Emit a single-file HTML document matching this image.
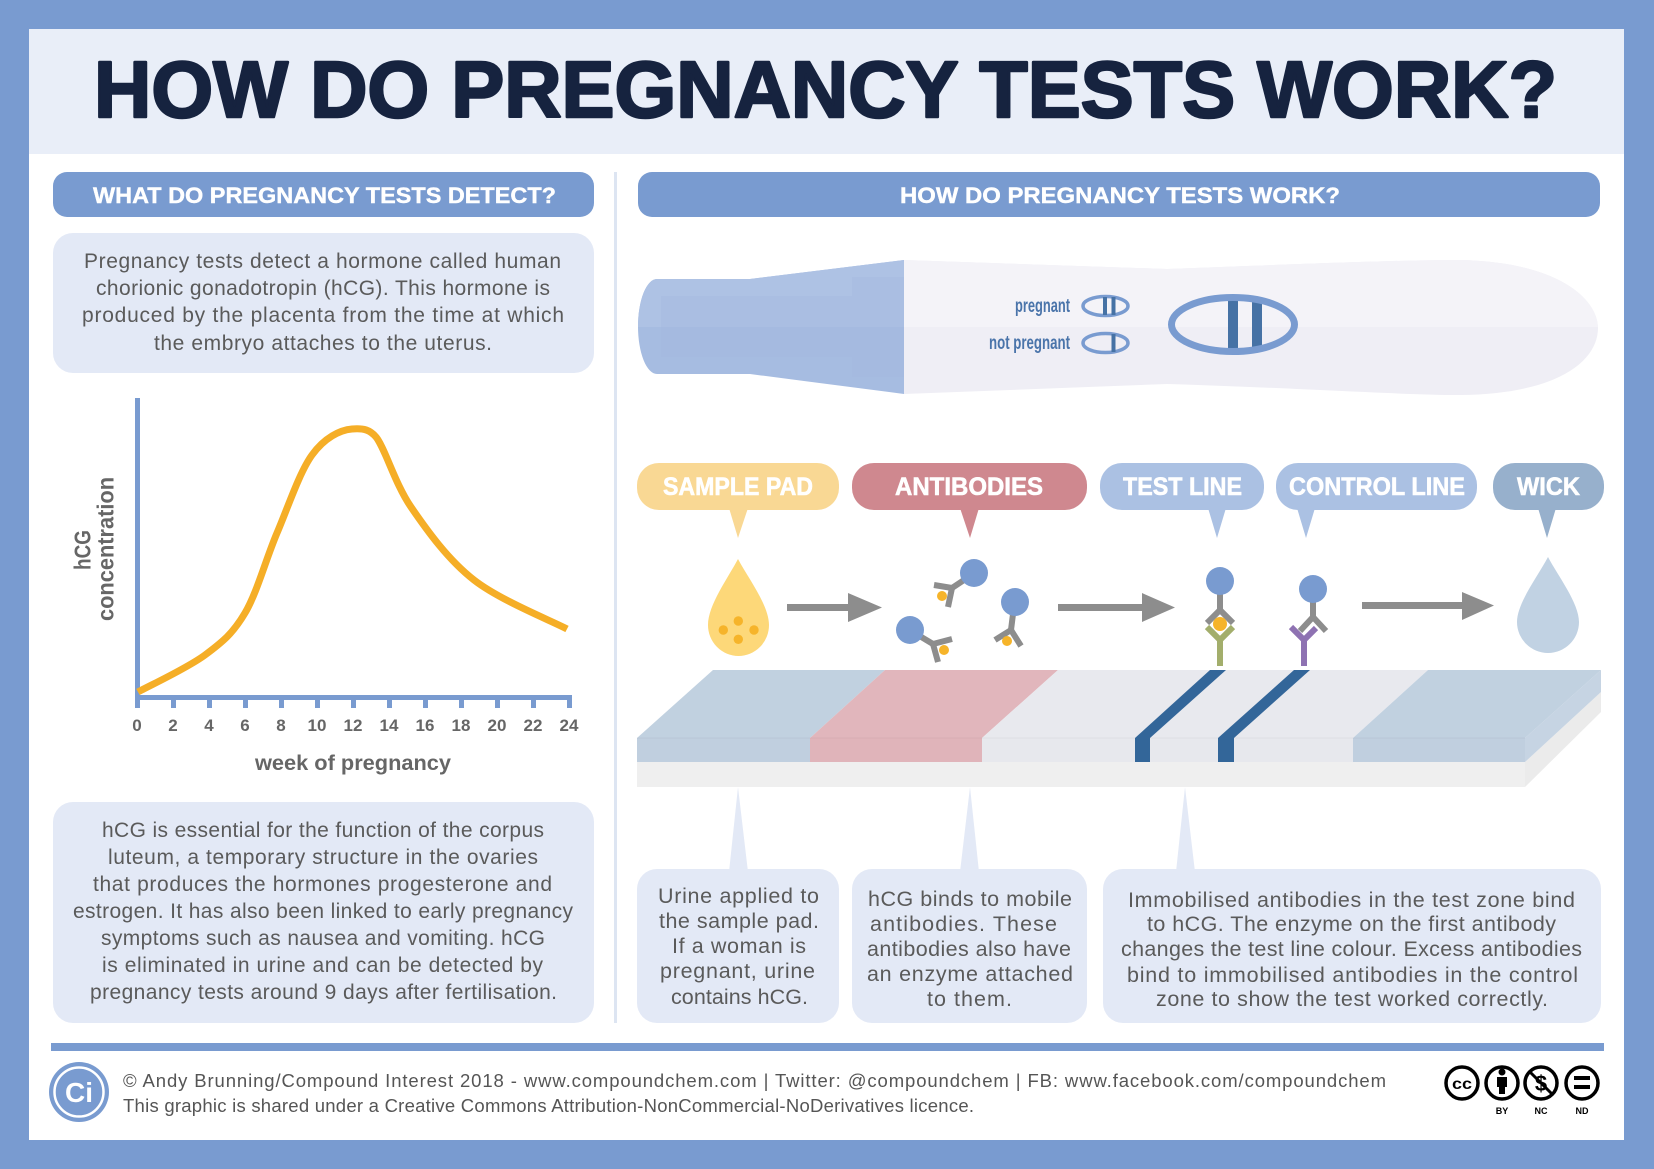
<!DOCTYPE html>
<html>
<head>
<meta charset="utf-8">
<style>
  html,body{margin:0;padding:0;background:#799bd0;}
  svg{display:block;}
  text{font-family:"Liberation Sans", Arial, sans-serif;}
</style>
</head>
<body>
<svg width="1654" height="1169" viewBox="0 0 1654 1169" xmlns="http://www.w3.org/2000/svg">
  <defs>
    <clipPath id="topHalf"><rect x="600" y="240" width="1010" height="87"/></clipPath>
  </defs>
  <!-- outer border and panel -->
  <rect x="0" y="0" width="1654" height="1169" fill="#799bd0"/>
  <rect x="29" y="29" width="1595" height="1111" fill="#ffffff"/>
  <rect x="29" y="29" width="1595" height="125" fill="#e9eef8"/>

  <!-- title -->
  <text x="94" y="117" font-size="80" font-weight="bold" fill="#16233f" stroke="#16233f" stroke-width="2.5" stroke-linejoin="round" textLength="1463" lengthAdjust="spacingAndGlyphs">HOW DO PREGNANCY TESTS WORK?</text>

  <!-- section headers -->
  <rect x="53" y="172" width="541" height="45" rx="14" fill="#799bd0"/>
  <text x="93" y="203" font-size="22" font-weight="bold" fill="#ffffff" stroke="#ffffff" stroke-width="0.4" textLength="463" lengthAdjust="spacingAndGlyphs">WHAT DO PREGNANCY TESTS DETECT?</text>
  <rect x="638" y="172" width="962" height="45" rx="14" fill="#799bd0"/>
  <text x="900" y="203" font-size="22" font-weight="bold" fill="#ffffff" stroke="#ffffff" stroke-width="0.4" textLength="440" lengthAdjust="spacingAndGlyphs">HOW DO PREGNANCY TESTS WORK?</text>

  <!-- separator -->
  <rect x="614" y="172" width="3" height="851" fill="#dde5f2"/>

  <!-- left box 1 -->
  <rect x="53" y="233" width="541" height="140" rx="20" fill="#e3e9f6"/>
  <g font-size="21" fill="#5a5a5a">
    <text x="84" y="268" textLength="477">Pregnancy tests detect a hormone called human</text>
    <text x="96" y="295" textLength="454">chorionic gonadotropin (hCG). This hormone is</text>
    <text x="82" y="322" textLength="482">produced by the placenta from the time at which</text>
    <text x="154" y="350" textLength="338">the embryo attaches to the uterus.</text>
  </g>

  <!-- chart -->
  <rect x="135" y="398" width="5" height="302" fill="#799bd0"/>
  <rect x="135" y="695" width="437" height="5" fill="#799bd0"/>
  <g fill="#799bd0">
    <rect x="135" y="695" width="5" height="13"/>
    <rect x="171" y="695" width="5" height="13"/>
    <rect x="207" y="695" width="5" height="13"/>
    <rect x="243" y="695" width="5" height="13"/>
    <rect x="279" y="695" width="5" height="13"/>
    <rect x="315" y="695" width="5" height="13"/>
    <rect x="351" y="695" width="5" height="13"/>
    <rect x="387" y="695" width="5" height="13"/>
    <rect x="423" y="695" width="5" height="13"/>
    <rect x="459" y="695" width="5" height="13"/>
    <rect x="495" y="695" width="5" height="13"/>
    <rect x="531" y="695" width="5" height="13"/>
    <rect x="567" y="695" width="5" height="13"/>
  </g>
  <g font-size="17" font-weight="bold" fill="#666666" text-anchor="middle">
    <text x="137" y="731">0</text>
    <text x="173" y="731">2</text>
    <text x="209" y="731">4</text>
    <text x="245" y="731">6</text>
    <text x="281" y="731">8</text>
    <text x="317" y="731">10</text>
    <text x="353" y="731">12</text>
    <text x="389" y="731">14</text>
    <text x="425" y="731">16</text>
    <text x="461" y="731">18</text>
    <text x="497" y="731">20</text>
    <text x="533" y="731">22</text>
    <text x="569" y="731">24</text>
  </g>
  <text x="255" y="770" font-size="21" font-weight="bold" fill="#666666" textLength="196" lengthAdjust="spacingAndGlyphs">week of pregnancy</text>
  <text transform="translate(90.5,570) rotate(-90)" x="0" y="0" font-size="23" font-weight="bold" fill="#666666" textLength="40" lengthAdjust="spacingAndGlyphs">hCG</text>
  <text transform="translate(113.5,621) rotate(-90)" x="0" y="0" font-size="23" font-weight="bold" fill="#666666" textLength="144" lengthAdjust="spacingAndGlyphs">concentration</text>
  <path fill="none" stroke="#f5ae27" stroke-width="7" stroke-linecap="butt"
    d="M138,692 C149.2,685.8 187.2,668.2 205,655 C222.8,641.8 233,633.3 245,613 C257,592.7 265.8,559.3 277,533 C288.2,506.7 299.5,472.3 312,455 C324.5,437.7 340,430 352,429 C364,428 370,430 376,437 C385,448 394.7,483.2 411,507 C427.3,530.8 448,559.7 474,580 C500,600.3 551.5,620.8 567,629"/>

  <!-- left box 2 -->
  <rect x="53" y="802" width="541" height="221" rx="20" fill="#e3e9f6"/>
  <g font-size="21" fill="#5a5a5a">
    <text x="102" y="837" textLength="442">hCG is essential for the function of the corpus</text>
    <text x="108" y="864" textLength="430">luteum, a temporary structure in the ovaries</text>
    <text x="93" y="891" textLength="459">that produces the hormones progesterone and</text>
    <text x="73" y="918" textLength="500">estrogen. It has also been linked to early pregnancy</text>
    <text x="101" y="945" textLength="444">symptoms such as nausea and vomiting. hCG</text>
    <text x="102" y="972" textLength="441">is eliminated in urine and can be detected by</text>
    <text x="90" y="999" textLength="467">pregnancy tests around 9 days after fertilisation.</text>
  </g>

  <!-- pregnancy test stick -->
  <path d="M904,260 L1167,269 C1300,264 1400,260 1460,260 C1560,262 1598,300 1598,328 C1598,360 1560,394 1460,395 C1400,395 1300,388 1167,384 L904,394 Z" fill="#efeef5"/>
  <path clip-path="url(#topHalf)" d="M904,260 L1167,269 C1300,264 1400,260 1460,260 C1560,262 1598,300 1598,328 C1598,360 1560,394 1460,395 C1400,395 1300,388 1167,384 L904,394 Z" fill="#f4f3f8"/>
  <path d="M657,279 L750,279 L904,260 L904,394 L750,374 L657,374 A19,47.5 0 0 1 657,279 Z" fill="#a6bce1"/>
  <path clip-path="url(#topHalf)" d="M657,279 L750,279 L904,260 L904,394 L750,374 L657,374 A19,47.5 0 0 1 657,279 Z" fill="#aec2e4"/>
  <rect x="661" y="296" width="191" height="61" fill="#a3b6df" opacity="0.35"/>
  <rect x="852" y="277" width="52" height="100" fill="#a3b6df" opacity="0.35"/>

  <text x="1015" y="312" font-size="19" font-weight="bold" fill="#4a74aa" textLength="55" lengthAdjust="spacingAndGlyphs">pregnant</text>
  <text x="989" y="349" font-size="19" font-weight="bold" fill="#4a74aa" textLength="81" lengthAdjust="spacingAndGlyphs">not pregnant</text>
  <ellipse cx="1105.5" cy="306" rx="22.5" ry="9.5" fill="#f4f3f8" stroke="#799bd0" stroke-width="3.5"/>
  <rect x="1103" y="297" width="4" height="18" fill="#4672a5"/>
  <rect x="1111.5" y="297" width="4" height="18" fill="#4672a5"/>
  <ellipse cx="1105.5" cy="343" rx="22.5" ry="9.5" fill="#efeef5" stroke="#799bd0" stroke-width="3.5"/>
  <rect x="1111.5" y="334" width="4" height="18" fill="#4672a5"/>

  <rect x="1228" y="298" width="10" height="52" fill="#4672a5"/>
  <rect x="1252" y="298" width="10" height="52" fill="#4672a5"/>
  <ellipse cx="1233" cy="324.5" rx="61.5" ry="27" fill="none" stroke="#799bd0" stroke-width="7"/>

  <!-- label pills -->
  <g font-size="25" font-weight="bold" fill="#ffffff" stroke="#ffffff" stroke-width="0.6">
  <rect x="637" y="463" width="202" height="47" rx="22" fill="#f9d894" stroke="none"/>
  <polygon points="729,508 748,508 738,538" fill="#f9d894" stroke="none"/>
  <text x="663" y="495" textLength="150" lengthAdjust="spacingAndGlyphs">SAMPLE PAD</text>

  <rect x="852" y="463" width="235" height="47" rx="22" fill="#cf888f" stroke="none"/>
  <polygon points="960,508 979,508 970,538" fill="#cf888f" stroke="none"/>
  <text x="895" y="495" textLength="148" lengthAdjust="spacingAndGlyphs">ANTIBODIES</text>

  <rect x="1100" y="463" width="164" height="47" rx="22" fill="#abc1e3" stroke="none"/>
  <polygon points="1208,508 1226,508 1217,538" fill="#abc1e3" stroke="none"/>
  <text x="1123" y="495" textLength="119" lengthAdjust="spacingAndGlyphs">TEST LINE</text>

  <rect x="1276" y="463" width="201" height="47" rx="22" fill="#abc1e3" stroke="none"/>
  <polygon points="1297,508 1315,508 1306,538" fill="#abc1e3" stroke="none"/>
  <text x="1289" y="495" textLength="176" lengthAdjust="spacingAndGlyphs">CONTROL LINE</text>

  <rect x="1493" y="463" width="111" height="47" rx="22" fill="#97b0cc" stroke="none"/>
  <polygon points="1538,508 1556,508 1547,538" fill="#97b0cc" stroke="none"/>
  <text x="1517" y="495" textLength="63" lengthAdjust="spacingAndGlyphs">WICK</text>
  </g>

  <!-- yellow drop -->
  <path d="M738,559 C748,578 769,605 769,625 A30.5,31 0 0 1 708,625 C708,605 728,578 738,559 Z" fill="#fdd879"/>
  <g fill="#f6b42a">
    <circle cx="738.3" cy="621" r="4.7"/>
    <circle cx="723.3" cy="630" r="4.7"/>
    <circle cx="754" cy="630" r="4.7"/>
    <circle cx="738.3" cy="639.3" r="4.7"/>
  </g>

  <!-- arrows -->
  <g fill="#8d8d8d">
    <rect x="787" y="604" width="62" height="7"/>
    <polygon points="848,593 882,607.5 848,622"/>
    <rect x="1058" y="604" width="85" height="7"/>
    <polygon points="1142,593 1175,607.5 1142,622"/>
    <rect x="1362" y="602" width="101" height="7"/>
    <polygon points="1462,592 1494,605.5 1462,620"/>
  </g>

  <!-- mobile antibodies -->
  <g stroke="#8d8d8d" stroke-width="6" fill="none" stroke-linecap="butt">
    <line x1="970" y1="576" x2="952" y2="588"/>
    <line x1="952" y1="588" x2="934" y2="585"/>
    <line x1="952" y1="588" x2="948" y2="607"/>
    <line x1="913" y1="632" x2="933" y2="644"/>
    <line x1="933" y1="644" x2="952" y2="639"/>
    <line x1="933" y1="644" x2="938" y2="662"/>
    <line x1="1014" y1="606" x2="1011" y2="630"/>
    <line x1="1011" y1="630" x2="995" y2="640"/>
    <line x1="1011" y1="630" x2="1021" y2="646"/>
  </g>
  <g fill="#799bd0">
    <circle cx="974" cy="573" r="14"/>
    <circle cx="910" cy="630" r="14"/>
    <circle cx="1015" cy="602" r="14"/>
  </g>
  <g fill="#f6b42a">
    <circle cx="942" cy="596" r="5"/>
    <circle cx="944" cy="650" r="5"/>
    <circle cx="1007" cy="641" r="5"/>
  </g>

  <!-- test line antibody -->
  <g stroke-width="6" fill="none">
    <line x1="1220" y1="590" x2="1220" y2="611" stroke="#8d8d8d"/>
    <polyline points="1207,623 1220,610 1233,623" stroke="#8d8d8d"/>
    <polyline points="1207,627 1220,640 1233,627" stroke="#a3ae6c"/>
    <line x1="1220" y1="639" x2="1220" y2="666" stroke="#a3ae6c"/>
  </g>
  <circle cx="1220" cy="624" r="7" fill="#f6b42a"/>
  <circle cx="1220" cy="581" r="14" fill="#799bd0"/>

  <!-- control line antibody -->
  <g stroke-width="6" fill="none">
    <line x1="1313" y1="598" x2="1313" y2="618" stroke="#8d8d8d"/>
    <polyline points="1300,631 1313,617 1326,631" stroke="#8d8d8d"/>
    <polyline points="1291,627 1304,640 1316,628" stroke="#8e72b2"/>
    <line x1="1304" y1="639" x2="1304" y2="666" stroke="#8e72b2"/>
  </g>
  <circle cx="1313" cy="589" r="14" fill="#799bd0"/>

  <!-- blue drop -->
  <path d="M1548,557 C1558,576 1579,603 1579,622 A31,31 0 0 1 1517,622 C1517,603 1538,576 1548,557 Z" fill="#c1d2e3"/>

  <!-- test strip -->
  <rect x="637" y="762" width="888" height="25" fill="#efefef"/>
  <polygon points="1525,762 1601,692 1601,712 1525,787" fill="#ebebeb"/>
  <polygon points="1525,738 1601,670 1601,692 1525,762" fill="#c6d4e3"/>
  <polygon points="637,738 713,670 885,670 810,738" fill="#c1d1e0"/>
  <polygon points="810,738 885,670 1058,670 982,738" fill="#e1b6bc"/>
  <polygon points="982,738 1058,670 1428,670 1353,738" fill="#e8e9ee"/>
  <polygon points="1353,738 1428,670 1601,670 1525,738" fill="#c1d1e0"/>
  <rect x="637" y="738" width="173" height="24" fill="#c0cfdf"/>
  <rect x="810" y="738" width="172" height="24" fill="#e0b4ba"/>
  <rect x="982" y="738" width="371" height="24" fill="#e7e8ed"/>
  <rect x="1353" y="738" width="172" height="24" fill="#c0cfdf"/>
  <line x1="637" y1="738" x2="1525" y2="738" stroke="#000" stroke-opacity="0.04" stroke-width="1"/>
  <polygon points="1135,738 1210,670 1226,670 1150,738 1150,762 1135,762" fill="#336699"/>
  <polygon points="1218,738 1294,670 1310,670 1234,738 1234,762 1218,762" fill="#336699"/>

  <!-- callout triangles -->
  <g fill="#e3e9f6">
    <polygon points="738,787 748,872 729,872"/>
    <polygon points="970,787 979,872 960,872"/>
    <polygon points="1185,787 1195,872 1176,872"/>
  </g>

  <!-- bottom boxes -->
  <rect x="637" y="869" width="202" height="154" rx="20" fill="#e3e9f6"/>
  <rect x="852" y="869" width="235" height="154" rx="20" fill="#e3e9f6"/>
  <rect x="1103" y="869" width="498" height="154" rx="20" fill="#e3e9f6"/>
  <g font-size="21.5" fill="#5a5a5a">
    <text x="658" y="903" textLength="161">Urine applied to</text>
    <text x="659" y="928" textLength="160">the sample pad.</text>
    <text x="672" y="953" textLength="134">If a woman is</text>
    <text x="660" y="978" textLength="155">pregnant, urine</text>
    <text x="671" y="1004" textLength="137">contains hCG.</text>

    <text x="868" y="906" textLength="204">hCG binds to mobile</text>
    <text x="870" y="931" textLength="187">antibodies. These</text>
    <text x="867" y="956" textLength="204">antibodies also have</text>
    <text x="867" y="981" textLength="206">an enzyme attached</text>
    <text x="927" y="1006" textLength="85">to them.</text>

    <text x="1128" y="907" textLength="447">Immobilised antibodies in the test zone bind</text>
    <text x="1147" y="931" textLength="409">to hCG. The enzyme on the first antibody</text>
    <text x="1121" y="956" textLength="461">changes the test line colour. Excess antibodies</text>
    <text x="1127" y="982" textLength="451">bind to immobilised antibodies in the control</text>
    <text x="1156" y="1006" textLength="392">zone to show the test worked correctly.</text>
  </g>

  <!-- footer -->
  <rect x="51" y="1043" width="1553" height="8" fill="#799bd0"/>
  <circle cx="79" cy="1092" r="30" fill="#799bd0"/>
  <circle cx="79" cy="1092" r="24.5" fill="none" stroke="#ffffff" stroke-width="2.5"/>
  <text x="79" y="1102" font-size="28" font-weight="bold" fill="#ffffff" text-anchor="middle">Ci</text>
  <text x="123" y="1087" font-size="18.5" fill="#555555" textLength="1263">© Andy Brunning/Compound Interest 2018 - www.compoundchem.com | Twitter: @compoundchem | FB: www.facebook.com/compoundchem</text>
  <text x="123" y="1112" font-size="18.5" fill="#555555" textLength="851">This graphic is shared under a Creative Commons Attribution-NonCommercial-NoDerivatives licence.</text>

  <!-- CC icons -->
  <g stroke="#000" stroke-width="3.5" fill="#ffffff">
    <circle cx="1462" cy="1083" r="16"/>
    <circle cx="1502" cy="1083" r="16"/>
    <circle cx="1541" cy="1083" r="16"/>
    <circle cx="1582" cy="1083" r="16"/>
  </g>
  <text x="1462" y="1089" font-size="16" font-weight="bold" fill="#000" text-anchor="middle" textLength="20" lengthAdjust="spacingAndGlyphs">cc</text>
  <circle cx="1502" cy="1072" r="3.5" fill="#000"/>
  <rect x="1497" y="1077" width="10" height="10" fill="#000"/>
  <rect x="1499" y="1085" width="6" height="9" fill="#000"/>
  <text x="1541" y="1091" font-size="22" font-weight="bold" fill="#000" text-anchor="middle">$</text>
  <line x1="1530" y1="1072" x2="1552" y2="1094" stroke="#000" stroke-width="3"/>
  <rect x="1574" y="1076" width="16" height="4" fill="#000"/>
  <rect x="1574" y="1085" width="16" height="4" fill="#000"/>
  <g font-size="9" font-weight="bold" fill="#000" text-anchor="middle">
    <text x="1502" y="1114">BY</text>
    <text x="1541" y="1114">NC</text>
    <text x="1582" y="1114">ND</text>
  </g>
</svg>
</body>
</html>
